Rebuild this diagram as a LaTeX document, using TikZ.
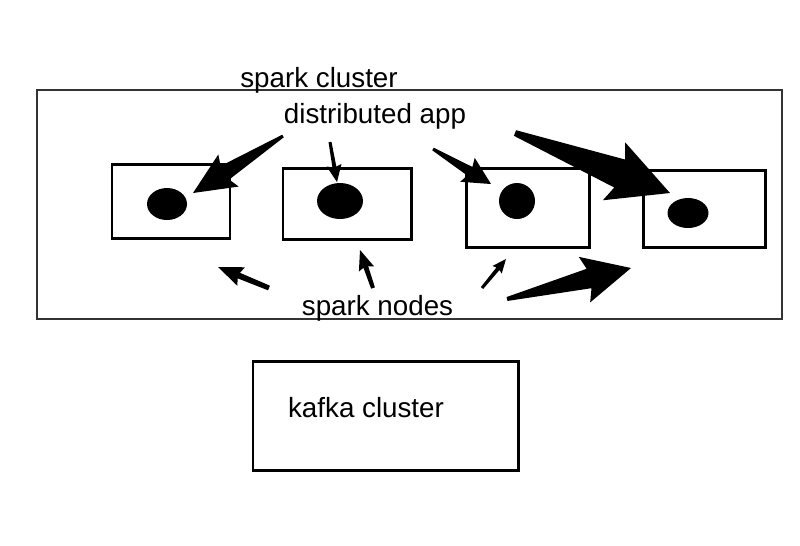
\documentclass[tikz,border=0pt]{standalone}
\usepackage{fontspec}
\setmainfont{Liberation Sans}
\usepackage{tikz}
\usetikzlibrary{calc}
\tikzstyle{txt} = [anchor=base, inner sep=0pt, font=\fontsize{15.8}{19}\selectfont]
\tikzstyle{box} = [draw, line width=1.7pt]
\tikzstyle{frame} = [draw=black!80, line width=0.6pt]
% tapered hand drawn arrow: tail, tip, tail half width, neck half width, head half width, head length
\newcommand{\taperarrow}[6]{%
	\coordinate (barb) at ($(#2)!#6!(#1)$);
	\coordinate (neck) at ($(#2)!0.9!(barb)$);
	\fill ($(#1)!#3!90:(#2)$) -- ($(neck)!#4!-90:(#1)$) -- ($(barb)!#5!-90:(#1)$) -- (#2)
		-- ($(barb)!#5!90:(#1)$) -- ($(neck)!#4!90:(#1)$) -- ($(#1)!#3!-90:(#2)$) -- cycle;
}

\begin{document}
\begin{tikzpicture}
	\useasboundingbox (0,0) rectangle (16,-10.9);
	% -------------- Spark cluster --------------
	\draw[frame] (0.74,-1.80) rectangle (15.64,-6.38);
	\node[txt] (cluster) at (6.38,-1.74) {spark cluster};
	\node[txt] (app)     at (7.50,-2.46) {distributed app};
	\node[txt] (nodes)   at (7.55,-6.30) {spark nodes};
	% -------------- Spark nodes --------------
	\draw[box] (2.24,-3.28)  rectangle (4.60,-4.76);
	\draw[box] (5.66,-3.36)  rectangle (8.22,-4.78);
	\draw[box] (9.32,-3.36)  rectangle (11.78,-4.94);
	\draw[box] (12.86,-3.40) rectangle (15.30,-4.94);
	\fill (3.34,-4.08)  ellipse (0.40 and 0.32);
	\fill (6.80,-4.02)  ellipse (0.46 and 0.36);
	\fill (10.34,-4.02) circle (0.36);
	\fill (13.76,-4.26) ellipse (0.41 and 0.30);
	% -------------- Kafka cluster --------------
	\draw[box] (5.06,-7.22) rectangle (10.36,-9.40);
	\node[txt] (kafka) at (7.32,-8.34) {kafka cluster};
	% -------------- Arrows from distributed app --------------
	\coordinate (a1) at (5.66,-2.72);  \coordinate (d1) at (3.86,-3.86);
	\coordinate (a2) at (6.60,-2.84);  \coordinate (d2) at (6.74,-3.64);
	\coordinate (a3) at (8.66,-2.98);  \coordinate (d3) at (9.82,-3.68);
	\coordinate (a4) at (10.30,-2.66); \coordinate (d4) at (13.40,-3.86);
	\taperarrow{a1}{d1}{0.03cm}{0.16cm}{0.38cm}{0.84cm}
	\taperarrow{a2}{d2}{0.03cm}{0.04cm}{0.15cm}{0.34cm}
	\taperarrow{a3}{d3}{0.03cm}{0.10cm}{0.28cm}{0.55cm}
	\taperarrow{a4}{d4}{0.06cm}{0.30cm}{0.62cm}{1.20cm}
	% -------------- Arrows from spark nodes --------------
	\coordinate (s1) at (5.38,-5.76);  \coordinate (n1) at (4.36,-5.34);
	\coordinate (s2) at (7.46,-5.76);  \coordinate (n2) at (7.20,-5.00);
	\coordinate (s3) at (9.64,-5.76);  \coordinate (n3) at (10.12,-5.18);
	\coordinate (s4) at (10.14,-5.98); \coordinate (n4) at (12.62,-5.36);
	\taperarrow{s1}{n1}{0.05cm}{0.06cm}{0.20cm}{0.50cm}
	\taperarrow{s2}{n2}{0.04cm}{0.05cm}{0.16cm}{0.40cm}
	\taperarrow{s3}{n3}{0.03cm}{0.04cm}{0.12cm}{0.28cm}
	\taperarrow{s4}{n4}{0.04cm}{0.20cm}{0.47cm}{0.96cm}
\end{tikzpicture}
\end{document}
